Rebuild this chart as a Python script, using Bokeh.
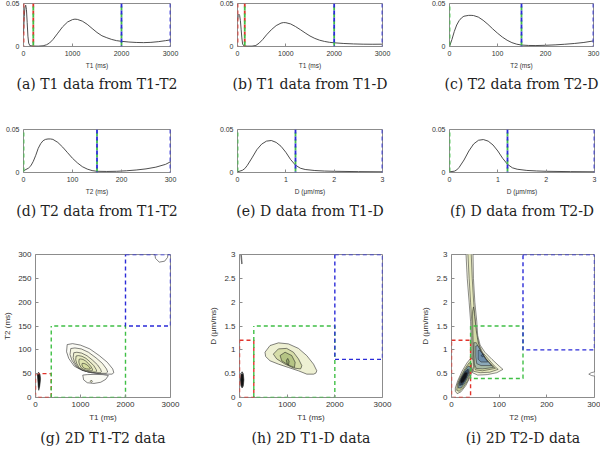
from bokeh.plotting import figure
from bokeh.layouts import column, row
from bokeh.models import FixedTicker, CustomJSTickFormatter, Title, Range1d, Span
from bokeh.embed import file_html
from bokeh.resources import INLINE

# ---------------- 1D distributions ----------------
a_t1 = [0, 15, 30, 45, 60, 75, 90, 105, 130, 200, 300, 400, 470, 530, 600, 700, 800, 900, 1000, 1050,
        1100, 1200, 1300, 1400, 1500, 1600, 1700, 1800, 1900, 2000, 2150, 2300, 2450, 2600, 2750, 2900, 3000]
a_amp = [0.015, 0.035, 0.046, 0.048, 0.043, 0.028, 0.012, 0.004, 0.001, 0.0005, 0.0004, 0.0008, 0.002, 0.004,
         0.008, 0.0155, 0.023, 0.0285, 0.0313, 0.0318, 0.0315, 0.0295, 0.0258, 0.021, 0.0163, 0.0125, 0.0102,
         0.0082, 0.0068, 0.006, 0.0052, 0.0047, 0.0045, 0.0048, 0.0056, 0.0068, 0.0077]

b_t1 = [0, 15, 30, 45, 60, 75, 90, 105, 130, 200, 300, 380, 450, 520, 600, 700, 800, 900, 950, 1000,
        1100, 1200, 1300, 1400, 1500, 1600, 1700, 1800, 1900, 2000, 2200, 2400, 2600, 2800, 3000]
b_amp = [0.03, 0.036, 0.0375, 0.036, 0.03, 0.02, 0.01, 0.003, 0.0008, 0.0004, 0.0004, 0.0012, 0.004, 0.008,
         0.0135, 0.0195, 0.0243, 0.0272, 0.0278, 0.0277, 0.0262, 0.0232, 0.0196, 0.0158, 0.0122, 0.0094,
         0.0073, 0.0059, 0.0049, 0.0043, 0.0035, 0.003, 0.0027, 0.0026, 0.0027]

c_t2 = [0, 5, 10, 15, 20, 25, 30, 40, 45, 50, 60, 70, 80, 90, 100, 110, 120, 130, 140, 150, 165, 180,
        200, 220, 240, 260, 280, 300]
c_amp = [0.0, 0.008, 0.0175, 0.025, 0.03, 0.0333, 0.0352, 0.0362, 0.0362, 0.036, 0.0342, 0.0305, 0.0258,
         0.0205, 0.0155, 0.011, 0.0073, 0.0045, 0.0027, 0.0017, 0.0012, 0.0011, 0.0014, 0.0019, 0.0026,
         0.0035, 0.0047, 0.0065]

d_t2 = [0, 10, 15, 20, 25, 30, 35, 40, 45, 50, 55, 60, 70, 80, 90, 100, 110, 120, 130, 140, 150, 170,
        190, 210, 230, 250, 270, 290, 300]
d_amp = [0.002, 0.005, 0.0078, 0.013, 0.02, 0.028, 0.0335, 0.037, 0.0385, 0.039, 0.039, 0.0385, 0.035,
         0.0295, 0.023, 0.0165, 0.0112, 0.0068, 0.004, 0.0022, 0.0014, 0.0012, 0.0014, 0.002, 0.0029,
         0.0042, 0.0062, 0.0095, 0.0125]

e_d = [0, 0.1, 0.15, 0.2, 0.3, 0.4, 0.5, 0.6, 0.7, 0.8, 0.9, 1.0, 1.1, 1.2, 1.3, 1.4, 1.6, 1.8, 2.0, 2.5, 3.0]
e_amp = [0.0008, 0.0025, 0.0045, 0.008, 0.017, 0.0265, 0.033, 0.0365, 0.0372, 0.035, 0.0305, 0.0235,
         0.015, 0.0085, 0.005, 0.0035, 0.0023, 0.0017, 0.0014, 0.001, 0.0008]

f_d = [0, 0.1, 0.15, 0.2, 0.3, 0.4, 0.5, 0.6, 0.7, 0.8, 0.9, 1.0, 1.1, 1.2, 1.3, 1.4, 1.6, 1.8, 2.0, 2.5, 3.0]
f_amp = [0.0008, 0.0015, 0.003, 0.006, 0.0145, 0.025, 0.0332, 0.0375, 0.0383, 0.0365, 0.032, 0.025,
         0.0165, 0.0095, 0.0055, 0.0038, 0.0024, 0.0018, 0.0014, 0.001, 0.0008]

# region boundaries shown in the 1D panels (lo, hi)
a_regions = {"red": (0, 200), "green": (200, 2000), "blue": (2000, 3000)}
b_regions = {"red": (0, 150), "green": (150, 2000), "blue": (2000, 3000)}
c_regions = {"green": (0, 150), "blue": (150, 300)}
d_regions = {"green": (0, 150), "blue": (150, 300)}
e_regions = {"green": (0, 1.2), "blue": (1.2, 3)}
f_regions = {"green": (0, 1.2), "blue": (1.2, 3)}

# ---------------- 2D maps: contour outlines ----------------
# (g) T1-T2
g_ring1_t1 = [704, 823, 997, 1206, 1416, 1595, 1716, 1740, 1700, 1520, 1240, 1031, 858, 739, 690]
g_ring1_t2 = [111, 113, 110, 102, 88, 74, 60, 52, 49, 49, 52, 57, 66, 82, 96]
g_ring2_t1 = [784, 876, 1018, 1177, 1345, 1487, 1579, 1604, 1570, 1428, 1202, 1043, 905, 809, 767]
g_ring2_t2 = [102.7, 104, 101.9, 94.9, 83.2, 71.5, 59.8, 53.4, 50.7, 50.7, 52.8, 57.6, 64.6, 78.4, 90.1]
g_ring3_t1 = [850, 919, 1025, 1145, 1270, 1377, 1446, 1465, 1440, 1333, 1164, 1044, 941, 868, 837]
g_ring3_t2 = [93.9, 94.9, 93.2, 87.6, 78.2, 68.7, 59.3, 54.1, 52, 52, 53.7, 57.6, 63.2, 74.3, 83.7]
g_ring4_t1 = [902, 954, 1033, 1122, 1215, 1295, 1346, 1360, 1341, 1262, 1136, 1047, 970, 916, 893]
g_ring4_t2 = [87.1, 87.9, 86.5, 82.1, 74.5, 66.9, 59.3, 55.2, 53.5, 53.5, 54.9, 58, 62.4, 71.4, 79]
g_ring5_t1 = [969, 1003, 1055, 1113, 1175, 1227, 1261, 1270, 1258, 1206, 1123, 1064, 1014, 978, 963]
g_ring5_t2 = [80.3, 80.9, 79.9, 76.7, 71.2, 65.7, 60.2, 57.2, 56, 56, 57, 59.2, 62.5, 69, 74.4]
g_ring6_t1 = [1036, 1056, 1088, 1124, 1162, 1194, 1214, 1220, 1212, 1181, 1130, 1094, 1063, 1041, 1032]
g_ring6_t2 = [71.4, 71.7, 71.2, 69.6, 66.9, 64.3, 61.6, 60.1, 59.5, 59.5, 60, 61.1, 62.7, 65.8, 68.5]
g_lobe_t1 = [1050, 1070, 1150, 1300, 1450, 1560, 1620, 1500, 1300, 1150]
g_lobe_t2 = [47, 37, 31, 29.5, 32, 38, 46, 48, 48.5, 48]
g_dot_t1 = [1215, 1240, 1265, 1240]
g_dot_t2 = [34, 36.5, 34, 31.5]
g_fast1_t1 = [40, 70, 100, 112, 100, 85, 72, 62, 50]
g_fast1_t2 = [50, 53, 49, 40, 28, 19, 15, 22, 38]
g_fast2_t1 = [55, 75, 92, 95, 85, 74, 65]
g_fast2_t2 = [46, 48, 44, 35, 25, 21, 32]
g_corner_t1 = [2640, 2665, 2750, 2870, 2935, 2955]
g_corner_t2 = [312, 292, 284, 286, 294, 312]
g_boxes = {"red": ((0, 350), (0, 50)), "green": ((350, 2000), (0, 150)), "blue": ((2000, 3000), (150, 300))}

# (h) T1-D
h_ring1_t1 = [535, 640, 816, 1026, 1237, 1412, 1553, 1622, 1600, 1553, 1412, 1237, 1026, 816, 640, 548]
h_ring1_d = [0.95, 1.09, 1.146, 1.125, 1.03, 0.878, 0.70, 0.56, 0.51, 0.49, 0.49, 0.56, 0.63, 0.70, 0.77, 0.86]
h_ring2_t1 = [710, 816, 990, 1131, 1237, 1307, 1290, 1272, 1131, 956, 780]
h_ring2_d = [0.91, 1.02, 1.03, 0.95, 0.81, 0.67, 0.61, 0.60, 0.62, 0.70, 0.81]
h_ring3_t1 = [851, 956, 1096, 1167, 1153, 1026, 886]
h_ring3_d = [0.88, 0.95, 0.88, 0.74, 0.63, 0.68, 0.77]
h_ring4_t1 = [985, 1012, 1040, 1030, 1000]
h_ring4_d = [0.78, 0.82, 0.76, 0.68, 0.70]
h_fast1_t1 = [20, 30, 55, 80, 92, 80, 55, 30]
h_fast1_d = [0.37, 0.50, 0.54, 0.50, 0.37, 0.24, 0.20, 0.24]
h_fast2_t1 = [32, 40, 55, 70, 78, 70, 55, 40]
h_fast2_d = [0.37, 0.46, 0.49, 0.46, 0.37, 0.28, 0.25, 0.28]
h_corner_t1 = [10, 30, 55, 48, 25]
h_corner_d = [3.1, 3.1, 2.82, 2.8, 3.0]
h_boxes = {"red": ((0, 300), (0, 1.2)), "green": ((300, 2000), (0, 1.5)), "blue": ((2000, 3000), (0.8, 3))}

# (i) T2-D
i_ring1_t2 = [30, 33, 37, 40, 41, 41, 42, 44, 55, 75, 95, 108, 100, 85, 70, 60, 55, 53, 49, 46, 45]
i_ring1_d = [3.1, 2.5, 2.0, 1.6, 1.3, 1.0, 0.7, 0.52, 0.47, 0.48, 0.52, 0.59, 0.66, 0.8, 0.95, 1.1, 1.3, 1.6, 2.0, 2.5, 3.1]
i_ring2_t2 = [34, 37, 40, 42.5, 43, 43.5, 44.5, 46, 60, 80, 98, 90, 78, 65, 58, 53, 50, 46.5, 43.5, 41]
i_ring2_d = [3.1, 2.5, 2.0, 1.6, 1.3, 1.0, 0.7, 0.55, 0.52, 0.53, 0.59, 0.66, 0.8, 0.95, 1.1, 1.3, 1.6, 2.0, 2.5, 3.1]
i_ring3_t2 = [44, 45, 46, 47, 50, 65, 92, 85, 72, 62, 56, 52, 48.5, 46]
i_ring3_d = [1.8, 1.3, 1.0, 0.7, 0.58, 0.56, 0.61, 0.68, 0.82, 0.97, 1.15, 1.4, 1.7, 1.9]
i_ring4_t2 = [47, 47, 48, 52, 65, 88, 80, 70, 60, 52]
i_ring4_d = [1.15, 0.9, 0.7, 0.61, 0.6, 0.63, 0.71, 0.84, 1.0, 1.15]
i_ring5_t2 = [51, 51, 53, 62, 84, 77, 68, 60, 55]
i_ring5_d = [1.08, 0.85, 0.71, 0.67, 0.67, 0.75, 0.86, 1.0, 1.09]
i_ring6_t2 = [56, 56, 62, 76, 70, 64, 59]
i_ring6_d = [0.99, 0.8, 0.745, 0.745, 0.83, 0.93, 0.99]
i_ring7_t2 = [62, 65, 68, 66]
i_ring7_d = [0.88, 0.85, 0.87, 0.91]
i_fastA_t2 = [8, 12, 20, 30, 40, 46, 45, 40, 32, 22, 13, 8]
i_fastA_d = [0.13, 0.08, 0.12, 0.25, 0.45, 0.65, 0.8, 0.82, 0.72, 0.55, 0.35, 0.2]
i_fastB_t2 = [11, 16, 24, 34, 42, 42, 37, 28, 18, 12]
i_fastB_d = [0.15, 0.13, 0.2, 0.35, 0.58, 0.72, 0.73, 0.6, 0.42, 0.27]
i_fastC_t2 = [14, 20, 28, 37, 40, 35, 27, 18, 14]
i_fastC_d = [0.2, 0.2, 0.3, 0.48, 0.64, 0.66, 0.55, 0.38, 0.28]
i_fastD_t2 = [17, 23, 30, 36, 35, 29, 21, 17]
i_fastD_d = [0.25, 0.27, 0.38, 0.52, 0.6, 0.55, 0.42, 0.32]
i_fastE_t2 = [20, 25, 31, 33, 28, 22, 19]
i_fastE_d = [0.3, 0.33, 0.43, 0.52, 0.52, 0.42, 0.35]
i_edge_t2 = [310, 293, 288, 294, 310]
i_edge_d = [0.56, 0.52, 0.49, 0.46, 0.43]
i_boxes = {"red": ((0, 40), (0, 1.2)), "green": ((40, 150), (0.4, 1.5)), "blue": ((150, 300), (1.0, 3))}

# ---------------- styles ----------------
COL = {"red": "#e2342c", "green": "#3fbf45", "blue": "#2b2bd8"}
OFF = {"red": 0, "green": 4, "blue": 0}
FRAME = "#8c8c8c"
TXT = "#333333"


def make_fig(width, height, left, right, top, bottom, xr, yr, xticks, yticks,
             xlabel, ylabel, caption, tick_fs, label_fs, cap_standoff):
    p = figure(width=width, height=height, x_range=Range1d(*xr), y_range=Range1d(*yr),
               output_backend="svg", toolbar_location=None, title=None,
               min_border_left=left, min_border_right=right,
               min_border_top=top, min_border_bottom=bottom)
    p.grid.visible = False
    p.outline_line_color = FRAME
    p.outline_line_width = 1
    p.background_fill_color = "white"
    p.border_fill_color = "white"
    for ax in (p.xaxis[0], p.yaxis[0]):
        ax.axis_line_color = None
        ax.major_tick_in = 3
        ax.major_tick_out = 0
        ax.major_tick_line_color = FRAME
        ax.minor_tick_line_color = None
        ax.major_label_text_font = "Liberation Sans"
        ax.major_label_text_font_size = tick_fs
        ax.major_label_text_color = TXT
        ax.major_label_standoff = 4
        ax.axis_label_text_font = "Liberation Sans"
        ax.axis_label_text_font_size = label_fs
        ax.axis_label_text_font_style = "normal"
        ax.axis_label_text_color = TXT
        ax.axis_label_standoff = 3
        ax.formatter = CustomJSTickFormatter(code="return tick.toString();")
    p.xaxis.ticker = FixedTicker(ticks=xticks)
    p.yaxis.ticker = FixedTicker(ticks=yticks)
    p.xaxis.axis_label = xlabel
    if ylabel:
        p.yaxis.axis_label = ylabel
    p.add_layout(Title(text=caption, align="center", text_font="DejaVu Serif",
                       text_font_size="14px", text_font_style="normal", text_color="#222222",
                       standoff=cap_standoff), "below")
    return p


def one_d(p, xs, ys, regions):
    for name, (lo, hi) in regions.items():
        for loc in (lo, hi):
            p.add_layout(Span(location=loc, dimension="height", line_color=COL[name],
                              line_width=1.8, line_dash="4 3", line_dash_offset=OFF[name]))
    p.line(xs, ys, line_color="#3a3a3a", line_width=0.9)


def rings(p, outlines, fills, lw=0.55):
    p.patches(xs=[o[0] for o in outlines], ys=[o[1] for o in outlines],
              fill_color=fills, line_color="#1c1c1c", line_width=lw)


def boxes(p, bx):
    for name, ((x0, x1), (y0, y1)) in bx.items():
        p.quad(left=[x0], right=[x1], bottom=[y0], top=[y1], fill_alpha=0,
               line_color=COL[name], line_width=1.4, line_dash="4 3",
               line_dash_offset=OFF[name])


r1 = dict(height=105, top=3, bottom=59)
r2 = dict(height=130, top=24, bottom=63)
r3 = dict(height=214, top=19, bottom=52)
S = "7px"
L = "6.5px"
yt1 = [0, 0.05]

fa = make_fig(200, r1["height"], 23, 30, r1["top"], r1["bottom"], (0, 3000), (0, 0.05),
              [0, 1000, 2000, 3000], yt1, "T1 (ms)", None, "(a) T1 data from T1-T2", S, L, 4)
one_d(fa, a_t1, a_amp, a_regions)
fb = make_fig(200, r1["height"], 37, 18, r1["top"], r1["bottom"], (0, 3000), (0, 0.05),
              [0, 1000, 2000, 3000], yt1, "T1 (ms)", None, "(b) T1 data from T1-D", S, L, 4)
one_d(fb, b_t1, b_amp, b_regions)
fc = make_fig(200, r1["height"], 49, 7, r1["top"], r1["bottom"], (0, 300), (0, 0.05),
              [0, 100, 200, 300], yt1, "T2 (ms)", None, "(c) T2 data from T2-D", S, L, 4)
one_d(fc, c_t2, c_amp, c_regions)

fd = make_fig(200, r2["height"], 23, 30, r2["top"], r2["bottom"], (0, 300), (0, 0.05),
              [0, 100, 200, 300], yt1, "T2 (ms)", None, "(d) T2 data from T1-T2", S, L, 7)
one_d(fd, d_t2, d_amp, d_regions)
fe = make_fig(200, r2["height"], 37, 18, r2["top"], r2["bottom"], (0, 3), (0, 0.05),
              [0, 1, 2, 3], yt1, "D (μm/ms)", None, "(e) D data from T1-D", S, L, 7)
one_d(fe, e_d, e_amp, e_regions)
ff = make_fig(200, r2["height"], 49, 6, r2["top"], r2["bottom"], (0, 3), (0, 0.05),
              [0, 1, 2, 3], yt1, "D (μm/ms)", None, "(f) D data from T2-D", S, L, 7)
one_d(ff, f_d, f_amp, f_regions)

S3 = "8px"
fg = make_fig(200, r3["height"], 27, 30, r3["top"], r3["bottom"], (0, 3000), (0, 300),
              [0, 1000, 2000, 3000], [0, 50, 100, 150, 200, 250, 300], "T1 (ms)", "T2 (ms)",
              "(g) 2D T1-T2 data", S3, S3, 7)
rings(fg, [(g_ring1_t1, g_ring1_t2), (g_ring2_t1, g_ring2_t2), (g_ring3_t1, g_ring3_t2),
           (g_ring4_t1, g_ring4_t2), (g_ring5_t1, g_ring5_t2), (g_ring6_t1, g_ring6_t2),
           (g_lobe_t1, g_lobe_t2), (g_dot_t1, g_dot_t2), (g_fast1_t1, g_fast1_t2),
           (g_fast2_t1, g_fast2_t2), (g_corner_t1, g_corner_t2)],
      ["#fbfbf5", "#f5f5e2", "#eeefd0", "#e7eac0", "#dfe4b0", "#d6dd9f",
       "#fbfbf5", "#e7eac0", "#2e2e2e", "#0d0d0d", "#ffffff"])
boxes(fg, g_boxes)

fh = make_fig(200, r3["height"], 39, 18, r3["top"], r3["bottom"], (0, 3000), (0, 3),
              [0, 1000, 2000, 3000], [0, 0.5, 1, 1.5, 2, 2.5, 3], "T1 (ms)", "D (μm/ms)",
              "(h) 2D T1-D data", S3, S3, 7)
rings(fh, [(h_ring1_t1, h_ring1_d), (h_ring2_t1, h_ring2_d), (h_ring3_t1, h_ring3_d),
           (h_ring4_t1, h_ring4_d), (h_fast1_t1, h_fast1_d), (h_fast2_t1, h_fast2_d),
           (h_corner_t1, h_corner_d)],
      ["#eef0d3", "#d6dda8", "#b5c484", "#97a96c", "#2e2e2e", "#0d0d0d", "#ffffff"])
boxes(fh, h_boxes)

fi = make_fig(200, r3["height"], 51, 6, r3["top"], r3["bottom"], (0, 300), (0, 3),
              [0, 100, 200, 300], [0, 0.5, 1, 1.5, 2, 2.5, 3], "T2 (ms)", "D (μm/ms)",
              "(i) 2D T2-D data", S3, S3, 7)
rings(fi, [(i_ring1_t2, i_ring1_d), (i_ring2_t2, i_ring2_d), (i_ring3_t2, i_ring3_d),
           (i_ring4_t2, i_ring4_d), (i_ring5_t2, i_ring5_d), (i_ring6_t2, i_ring6_d),
           (i_ring7_t2, i_ring7_d), (i_fastA_t2, i_fastA_d), (i_fastB_t2, i_fastB_d),
           (i_fastC_t2, i_fastC_d), (i_fastD_t2, i_fastD_d), (i_fastE_t2, i_fastE_d),
           (i_edge_t2, i_edge_d)],
      ["#f3f4dc", "#e6e9bc", "#d3dba8", "#a9bba6", "#8ba8b9", "#6d8daa", "#4f6e8e",
       "#eceecf", "#c4cf98", "#7c9ca6", "#34495f", "#111418", "#ffffff"], lw=0.5)
boxes(fi, i_boxes)

layout = column(row(fa, fb, fc), row(fd, fe, ff), row(fg, fh, fi))
open("out.html", "w").write(file_html(layout, INLINE))
